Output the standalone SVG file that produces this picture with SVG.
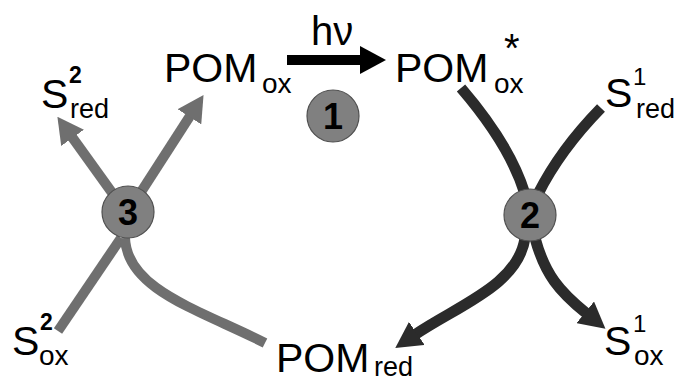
<svg xmlns="http://www.w3.org/2000/svg" width="678" height="382" viewBox="0 0 678 382">
<style>
text{font-family:"Liberation Sans",Arial,sans-serif;fill:#000}
.big{font-size:41px}
.sub{font-size:28px}
.sup{font-size:24px}
.supb{font-size:23px;font-weight:bold}
.num{font-size:36px;font-weight:bold;text-anchor:middle}
.g{fill:none;stroke:#6f6f6f;stroke-width:10}
.d{fill:none;stroke:#2b2b2b;stroke-width:11}
.k{fill:none;stroke:#000;stroke-width:10}
.c{fill:#808080;stroke:#505050;stroke-width:1.2}
</style>
<defs>
<marker id="ag" viewBox="0 -14 26 28" refX="1" refY="0" markerWidth="26" markerHeight="28" markerUnits="userSpaceOnUse" orient="auto"><path d="M0,-14 L26,0 L0,14 z" fill="#6f6f6f"/></marker>
<marker id="ad" viewBox="0 -14 26 28" refX="1" refY="0" markerWidth="26" markerHeight="28" markerUnits="userSpaceOnUse" orient="auto"><path d="M0,-14 L26,0 L0,14 z" fill="#2b2b2b"/></marker>
<marker id="ak" viewBox="0 -14 26 28" refX="1" refY="0" markerWidth="26" markerHeight="28" markerUnits="userSpaceOnUse" orient="auto"><path d="M0,-14 L26,0 L0,14 z" fill="#000"/></marker>
</defs>
<g id="connectors">
<path class="k" d="M287,60 L361,60" marker-end="url(#ak)"/>
<path class="g" d="M113,194 L72,137" marker-end="url(#ag)"/>
<path class="g" d="M141,192 L190,116" marker-end="url(#ag)"/>
<path class="g" d="M58,331 L121,238"/>
<path class="g" d="M125,238 C127,290 200,310 265,343"/>
<path class="d" d="M461,88 Q510,145 525,194"/>
<path class="d" d="M601,108 Q560,150 538,194"/>
<path class="d" d="M525,238 C518,285 459,305 416,334" marker-end="url(#ad)"/>
<path class="d" d="M535,238 C545,275 560,292 586,313" marker-end="url(#ad)"/>
</g>
<g id="step1"><circle class="c" cx="333" cy="116" r="26"/><text class="num" x="333" y="129">1</text></g>
<g id="step3"><circle class="c" cx="128" cy="212" r="26"/><text class="num" x="128" y="225">3</text></g>
<g id="step2"><circle class="c" cx="530" cy="215" r="26"/><text class="num" x="530" y="228">2</text></g>
<g id="hv"><text x="311" y="45" style="font-size:40px">hν</text></g>
<g id="POMox"><text class="big" x="164" y="82">POM</text><text class="sub" x="262" y="93">ox</text></g>
<g id="POMoxStar"><text class="big" x="395" y="82">POM</text><text class="sub" x="494" y="93">ox</text><text x="504" y="62" style="font-size:40px">*</text></g>
<g id="S1red"><text class="big" x="605" y="107">S</text><text class="sup" x="633" y="85">1</text><text style="font-size:27px" x="636" y="118">red</text></g>
<g id="S2red"><text class="big" x="41" y="108">S</text><text class="supb" x="69" y="83">2</text><text style="font-size:27px" x="70" y="118">red</text></g>
<g id="S2ox"><text class="big" x="12" y="355">S</text><text class="supb" x="40" y="330">2</text><text class="sub" x="39" y="365">ox</text></g>
<g id="POMred"><text class="big" x="276" y="372">POM</text><text style="font-size:27px" x="374" y="376">red</text></g>
<g id="S1ox"><text class="big" x="604" y="355">S</text><text class="sup" x="633" y="332">1</text><text class="sub" x="634" y="365">ox</text></g>
</svg>
